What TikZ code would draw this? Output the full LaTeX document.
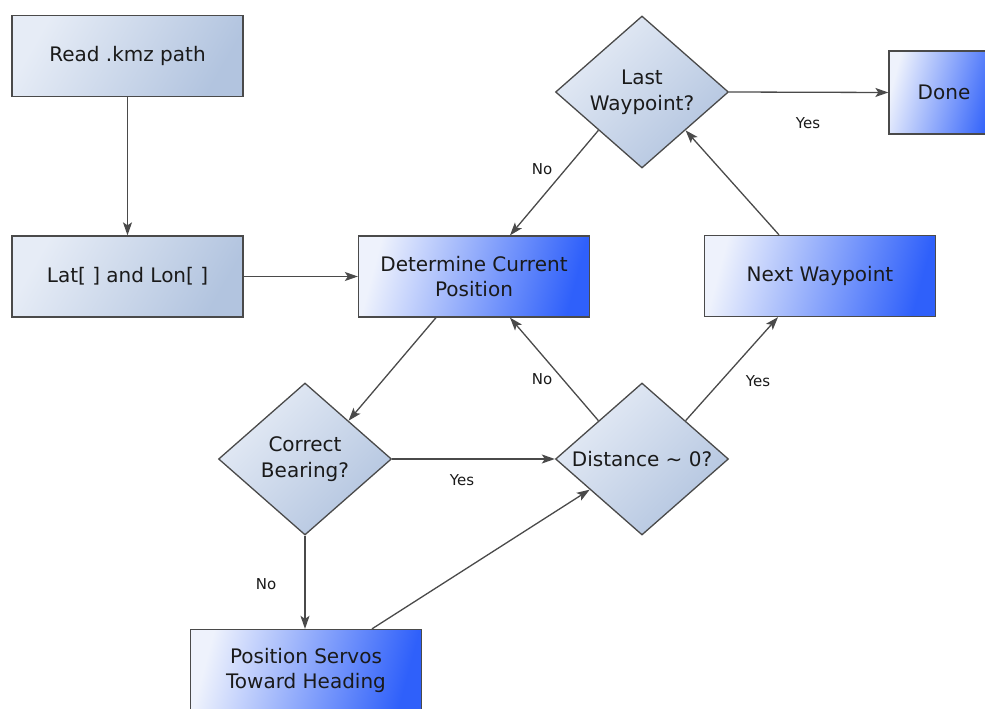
\documentclass[tikz,border=0pt]{standalone}
\usepackage{fontspec}
\setmainfont{DejaVu Sans}
\usetikzlibrary{shapes.geometric,arrows.meta,calc}
\definecolor{lightA}{HTML}{E6ECF6}
\definecolor{lightB}{HTML}{B2C4DF}
\definecolor{blueA}{HTML}{EEF2FC}
\definecolor{blueB}{HTML}{2F60FA}
\definecolor{edgegray}{HTML}{4A4A4A}
\definecolor{txt}{HTML}{1A1A1A}
\begin{document}
\begin{tikzpicture}[x=1pt,y=-1pt,
  box/.style={draw=edgegray, line width=1.3pt, minimum width=231pt, minimum height=81pt,
    inner sep=0pt, align=center, font=\fontsize{20}{25}\selectfont, text=txt},
  lightbox/.style={box, top color=lightA, bottom color=lightB, shading angle=60},
  bluebox/.style={box, top color=blueA, bottom color=blueB, shading angle=75},
  decision/.style={diamond, draw=edgegray, line width=1.3pt, minimum width=173pt,
    minimum height=152pt, inner sep=0pt, top color=lightA, bottom color=lightB, shading angle=45},
  dtext/.style={align=center, font=\fontsize{20}{26}\selectfont, text=txt, inner sep=0pt},
  arr/.style={draw=edgegray, line width=1.3pt, -{Stealth[length=13pt,width=9pt,inset=3pt]}},
  lbl/.style={font=\fontsize{15}{17}\selectfont, text=txt, inner sep=0pt}]
\useasboundingbox (0,0) rectangle (985,709);
\clip (0,0) rectangle (985,709);

% boxes
\node[lightbox] (read) at (127.5,56) {Read .kmz path};
\node[lightbox] (lat) at (127.5,276.5) {Lat[ ] and Lon[ ]};
\node[bluebox] (det) at (474,276.5) {Determine Current\\Position};
\node[bluebox] (next) at (820,276) {Next Waypoint};
\node[bluebox, minimum width=110pt, minimum height=83pt] (done) at (944,92.5) {Done};
\node[bluebox] (servo) at (306,670) {Position Servos\\Toward Heading};

% decisions
\node[decision, label={[dtext]center:Last\\Waypoint?}] (last) at (642,92) {};
\node[decision, label={[dtext]center:Correct\\Bearing?}] (cb) at (305,459) {};
\node[decision, label={[dtext]center:Distance \textasciitilde{} 0?}] (dist) at (642,459) {};

% connectors
\draw[arr] (read) -- (lat);
\draw[arr] (lat) -- (det);
\draw[arr] ([xshift=-38pt]det.south) -- (cb.north east);
\draw[arr] (cb.east) -- (dist.west);
\draw[arr] (cb.south) -- (cb.south |- servo.north);
\draw[arr] ([xshift=66pt]servo.north) -- ($(dist.west)!0.4!(dist.south)$);
\draw[arr] (dist.north west) -- ([xshift=36pt]det.south);
\draw[arr] (dist.north east) -- ([xshift=-42pt]next.south);
\draw[arr] ([xshift=-41pt]next.north) -- (last.south east);
\draw[arr] (last.south west) -- ([xshift=36pt]det.north);
\draw[arr] (last.east) -- (done.west);

% connector labels
\node[lbl] (yes1) at (808,123) {Yes};
\node[lbl] (no1) at (542,169) {No};
\node[lbl] (yes2) at (462,480) {Yes};
\node[lbl] (no2) at (266,584) {No};
\node[lbl] (no3) at (542,379) {No};
\node[lbl] (yes3) at (758,381) {Yes};
\end{tikzpicture}
\end{document}
